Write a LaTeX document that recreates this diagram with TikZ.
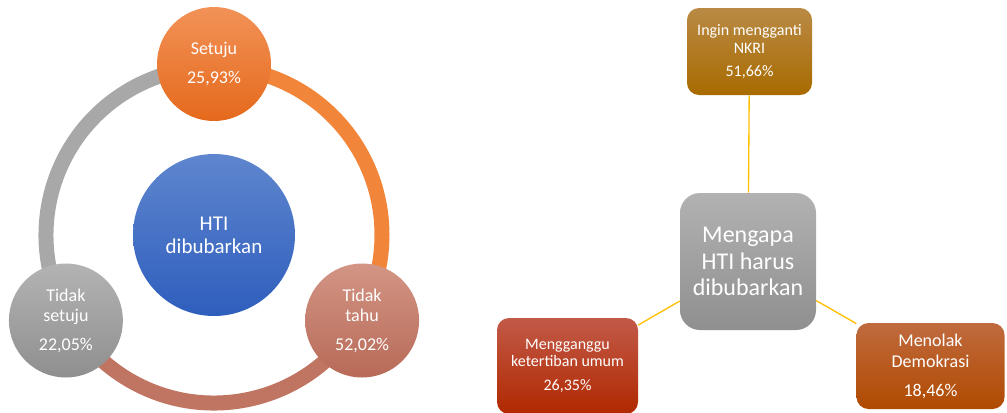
\documentclass[tikz,border=0pt]{standalone}
\usepackage{fontspec}
\setmainfont{Carlito}
\usepackage{xcolor}
\usetikzlibrary{shapes.geometric}

\definecolor{setujuA}{HTML}{F29257}
\definecolor{setujuB}{HTML}{E5691C}
\definecolor{tahuA}{HTML}{D39585}
\definecolor{tahuB}{HTML}{B86A57}
\definecolor{tolakA}{HTML}{B3B3B3}
\definecolor{tolakB}{HTML}{8F8F8F}
\definecolor{htiA}{HTML}{5F86CE}
\definecolor{htiB}{HTML}{2E5EBD}
\definecolor{ringorange}{HTML}{F18539}
\definecolor{ringbrown}{HTML}{C07462}
\definecolor{ringgrey}{HTML}{A8A8A8}
\definecolor{whyA}{HTML}{B2B2B2}
\definecolor{whyB}{HTML}{8F8F8F}
\definecolor{nkriA}{HTML}{BA8A45}
\definecolor{nkriB}{HTML}{A86B00}
\definecolor{gangguA}{HTML}{C25A48}
\definecolor{gangguB}{HTML}{B02800}
\definecolor{demoA}{HTML}{C06A3E}
\definecolor{demoB}{HTML}{B04A00}
\definecolor{linkgold}{HTML}{FFC000}

\begin{document}
\begin{tikzpicture}[x=0.75pt,y=-0.75pt,
    bubble/.style={circle,minimum size=85.5pt,inner sep=0pt,text=white,align=center,
      font=\fontsize{13.5}{15}\selectfont},
    card/.style={rounded corners=9pt,inner sep=0pt,text=white,align=center},
    link/.style={draw=linkgold,line width=1pt}]
    \useasboundingbox (0,0) rectangle (1007,412);

    \coordinate (o) at (214,235);
    \draw[line width=11.25pt,ringorange] (o) ++(-90:168) arc[start angle=-90,end angle=30,radius=168];
    \draw[line width=11.25pt,ringbrown] (o) ++(30:168) arc[start angle=30,end angle=150,radius=168];
    \draw[line width=11.25pt,ringgrey] (o) ++(150:168) arc[start angle=150,end angle=270,radius=168];

    \node[draw=none,outer sep=0pt,minimum size=256.5pt,regular polygon,regular polygon
    sides=3] (tri) at (o) {};

    \node[bubble,top color=setujuA,bottom color=setujuB] (setuju) at (tri.corner 1)
      {Setuju\\[6.2pt]25,93\%};
    \node[bubble,top color=tolakA,bottom color=tolakB] (tolak) at (tri.corner 2)
      {Tidak\\setuju\\[6.75pt]22,05\%};
    \node[bubble,top color=tahuA,bottom color=tahuB] (tahu) at (tri.corner 3)
      {Tidak\\tahu\\[6.75pt]52,02\%};
    \node[bubble,minimum size=121.5pt,font=\fontsize{15.75}{17.25}\selectfont,
      top color=htiA,bottom color=htiB] (hti) at (o) {HTI\\dibubarkan};

    \node[card,rounded corners=15pt,minimum width=102pt,minimum height=102.75pt,
      font=\fontsize{18}{20}\selectfont,top color=whyA,bottom color=whyB] (why)
      at (748,261.5) {Mengapa\\HTI harus\\dibubarkan};
    \node[card,minimum width=93.75pt,minimum height=65.25pt,
      font=\fontsize{12}{13.7}\selectfont,top color=nkriA,bottom color=nkriB] (nkri)
      at (749.5,51.5) {Ingin mengganti\\NKRI\\[3.8pt]51,66\%};
    \node[card,minimum width=105.75pt,minimum height=72pt,
      font=\fontsize{12}{13.25}\selectfont,top color=gangguA,bottom color=gangguB] (ganggu)
      at (567.5,366) {Mengganggu\\ketertiban umum\\[4.75pt]26,35\%};
    \node[card,minimum width=111pt,minimum height=64.5pt,
      font=\fontsize{13.5}{15.75}\selectfont,top color=demoA,bottom color=demoB] (demo)
      at (930.5,366) {Menolak\\Demokrasi\\[6pt]18,46\%};

    \draw[link] (why) -- (nkri);
    \draw[link] (why) -- (ganggu);
    \draw[link] (why) -- (demo);
\end{tikzpicture}
\end{document}
